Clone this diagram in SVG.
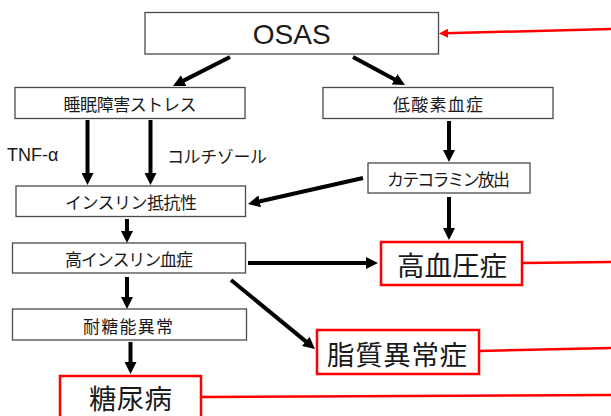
<svg xmlns="http://www.w3.org/2000/svg" width="611" height="416" viewBox="0 0 611 416">
<style>
.box{fill:#fff;stroke:#4a4a4a;stroke-width:1.3}
.rbox{fill:#fff;stroke:#ff0000;stroke-width:2.5}
.jp{font-family:"Noto Sans CJK JP","Noto Sans CJK SC",sans-serif;fill:#1a1a1a;text-anchor:middle;dominant-baseline:central}
.s{font-size:17px}
.b{font-size:27.5px}
.lat{font-family:"Liberation Sans",Arial,sans-serif;fill:#1a1a1a;dominant-baseline:central}
.arr{stroke:#000;stroke-width:4;fill:none;marker-end:url(#ah)}
.red{stroke:#ff0000;stroke-width:2.5;fill:none}
</style>
<defs>
<marker id="ah" markerUnits="userSpaceOnUse" viewBox="0 0 12 12" markerWidth="12" markerHeight="12" refX="4" refY="6" orient="auto">
<path d="M0,0 L12,6 L0,12 z" fill="#000"/>
</marker>
<marker id="rh" markerUnits="userSpaceOnUse" viewBox="0 0 9 9" markerWidth="9" markerHeight="9" refX="3" refY="4.5" orient="auto">
<path d="M0,0 L9,4.5 L0,9 z" fill="#ff0000"/>
</marker>
</defs>

<g id="connectors">
<line class="arr" x1="230" y1="57" x2="180.1" y2="82.4"/>
<line class="arr" x1="353" y1="57" x2="398" y2="81.2"/>
<line class="arr" x1="87.5" y1="120" x2="87.5" y2="177"/>
<line class="arr" x1="150.5" y1="120" x2="150.5" y2="177"/>
<line class="arr" x1="449" y1="121" x2="449" y2="154"/>
<line class="arr" x1="363" y1="178" x2="255.8" y2="202.2"/>
<line class="arr" x1="127" y1="219" x2="127" y2="235"/>
<line class="arr" x1="449" y1="197" x2="449" y2="232"/>
<line class="arr" x1="248" y1="263" x2="370" y2="263"/>
<line class="arr" x1="127" y1="277" x2="127" y2="301"/>
<line class="arr" x1="231" y1="280" x2="308.8" y2="343.9"/>
<line class="arr" x1="130.5" y1="342" x2="130.5" y2="366"/>
<line class="red" x1="611" y1="29" x2="445" y2="33.3" marker-end="url(#rh)"/>
<line class="red" x1="522" y1="263" x2="611" y2="262"/>
<line class="red" x1="479" y1="351" x2="611" y2="348"/>
<line class="red" x1="201" y1="397" x2="611" y2="395"/>
</g>

<g id="osas">
<rect class="box" x="145" y="12.5" width="293.5" height="41.5"/>
<text class="lat" x="291.7" y="34" font-size="28" text-anchor="middle">OSAS</text>
</g>

<g id="sleep-stress">
<rect class="box" x="15" y="87.5" width="230" height="31"/>
<text class="jp s" x="130" y="103.5" textLength="133">睡眠障害ストレス</text>
</g>

<g id="hypoxemia">
<rect class="box" x="323" y="87.5" width="230" height="31"/>
<text class="jp s" x="438" y="103.5" textLength="90">低酸素血症</text>
</g>

<g id="label-tnf">
<text class="lat" x="7" y="155" font-size="18">TNF-α</text>
</g>

<g id="label-cortisol">
<text class="jp s" x="217" y="155" textLength="100">コルチゾール</text>
</g>

<g id="catecholamine">
<rect class="box" x="368" y="163" width="162" height="30"/>
<text class="jp s" x="448.5" y="178.5" textLength="123">カテコラミン放出</text>
</g>

<g id="insulin-resistance">
<rect class="box" x="16" y="186" width="229.5" height="30.5"/>
<text class="jp s" x="131" y="201.5" textLength="132">インスリン抵抗性</text>
</g>

<g id="hyperinsulinemia">
<rect class="box" x="12.5" y="243" width="233" height="30"/>
<text class="jp s" x="129" y="258.5" textLength="128">高インスリン血症</text>
</g>

<g id="hypertension">
<rect class="rbox" x="381" y="242" width="141" height="43"/>
<text class="jp b" x="452" y="264" textLength="110">高血圧症</text>
</g>

<g id="glucose-intolerance">
<rect class="box" x="12.5" y="309" width="234" height="31"/>
<text class="jp s" x="128" y="325" textLength="90">耐糖能異常</text>
</g>

<g id="dyslipidemia">
<rect class="rbox" x="317" y="330" width="162" height="44"/>
<text class="jp b" x="397" y="352.5" font-size="28" textLength="140">脂質異常症</text>
</g>

<g id="diabetes">
<rect class="rbox" x="60" y="376" width="141" height="50"/>
<text class="jp b" x="130.5" y="396.5" font-size="28" textLength="83">糖尿病</text>
</g>
</svg>
